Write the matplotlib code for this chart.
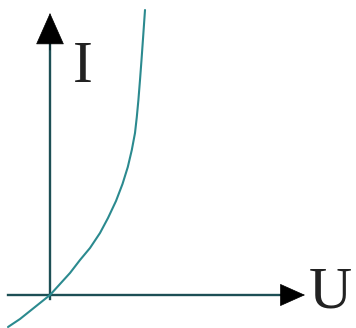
import matplotlib
matplotlib.use("Agg")
import matplotlib.pyplot as plt

# curve (U, I) in arbitrary units, origin at axes crossing
U_vals = [-42, -30, -20, -10, 0, 10, 20, 30, 40, 50, 58, 66, 72.5, 77.8, 81.8, 85, 86.8, 88.4, 90, 91.5, 93.2, 95]
I_vals = [-32, -24, -16, -8, 0, 11, 22, 35, 47, 62, 77, 94, 111, 128, 145, 162, 178, 195, 215, 235, 259, 285]

x_label = "U"
y_label = "I"

fig = plt.figure(figsize=(3.56, 3.28), dpi=100)
ax = fig.add_axes([0, 0, 1, 1])
ax.set_xlim(-50, 306)
ax.set_ylim(-33, 295)
ax.axis("off")

axis_col = "#1d4f55"
curve_col = "#2b8a8f"

# axis lines
ax.plot([-42, 240], [0, 0], color=axis_col, lw=1.7)
ax.plot([0, 0], [-4, 260], color=axis_col, lw=1.7)
# arrow heads
ax.annotate("", xy=(255, 0), xytext=(230, 0),
            arrowprops=dict(arrowstyle="-|>,head_length=0.85,head_width=0.38",
                            mutation_scale=20, lw=0.5, color="black",
                            shrinkA=0, shrinkB=0))
ax.annotate("", xy=(0, 282), xytext=(0, 245),
            arrowprops=dict(arrowstyle="-|>,head_length=1.08,head_width=0.48",
                            mutation_scale=20, lw=0.5, color="black",
                            shrinkA=0, shrinkB=0))

ax.plot(U_vals, I_vals, color=curve_col, lw=1.5, solid_capstyle="round",
        solid_joinstyle="round")

ax.text(259, 1, x_label, fontsize=43, family="Liberation Serif",
        ha="left", va="center", color="#222222")
ax.text(23, 227, y_label, fontsize=43, family="Liberation Serif",
        ha="left", va="center", color="#222222")

fig.savefig("out.png", dpi=100)
